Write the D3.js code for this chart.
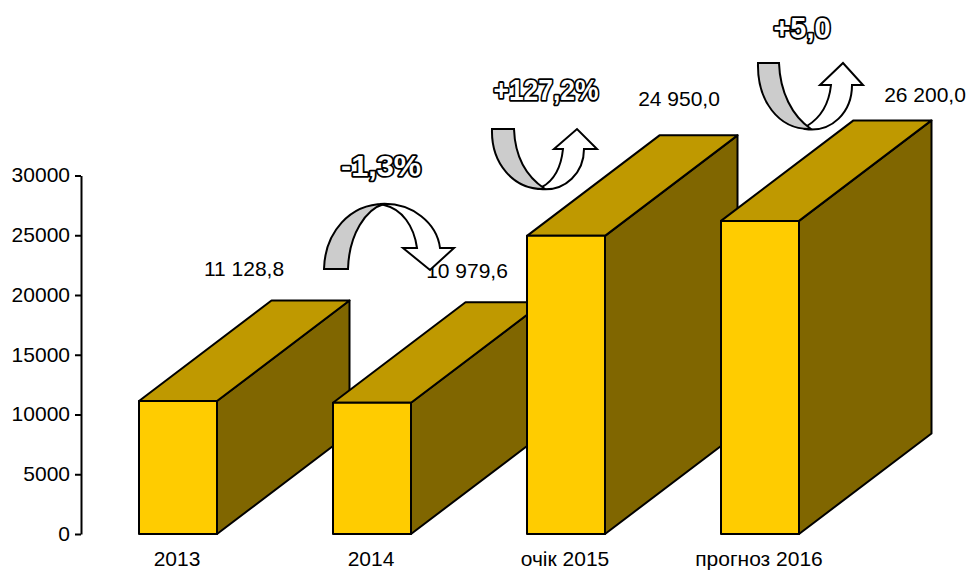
<!DOCTYPE html>
<html><head><meta charset="utf-8">
<script src="https://cdn.jsdelivr.net/npm/d3@7"></script>
<style>html,body{margin:0;background:#fff}svg{display:block}text{font-family:"Liberation Sans",Arial,sans-serif}</style>
</head><body><svg id="c" width="974" height="570"></svg>
<script>
const categories = ["2013","2014","очік 2015","прогноз 2016"];
const values = [11128.8,10979.6,24950.0,26200.0];
const valueLabels = ["11 128,8","10 979,6","24 950,0","26 200,0"];
const yTicks = [0,5000,10000,15000,20000,25000,30000];
const changeLabels = ["-1,3%","+127,2%","+5,0"];

const svg = d3.select("#c");
const y = d3.scaleLinear().domain([0,30000]).range([534,175.5]);
const x = d3.scaleBand().domain(categories).range([81,857]).paddingInner(0).paddingOuter(0);
const barW = 78, dx = 132.5, dy = 100.5;

// axis
const ax = svg.append("g").attr("transform","translate(81,0)")
  .call(d3.axisLeft(y).tickValues(yTicks).tickFormat(d3.format("d")).tickSize(6).tickSizeOuter(0).tickPadding(0));
ax.selectAll("path,line").attr("stroke","#000").attr("stroke-width",2);
ax.selectAll("text").attr("font-size",21).attr("fill","#000").attr("x",-11).attr("dy","0.3em");

// bars
const g = svg.append("g").attr("stroke","#000").attr("stroke-width",2).attr("stroke-linejoin","round");
const bx = c => x(c)+x.bandwidth()/2-barW/2;
categories.forEach((c,i)=>{
  const l=bx(c), r=l+barW, t=y(values[i]), b=y(0);
  g.append("path").attr("fill","#806600").attr("d",d3.line()([[r,b],[r+dx,b-dy],[r+dx,t-dy],[r,t]])+"Z");
  g.append("path").attr("fill","#BF9900").attr("d",d3.line()([[l,t],[l+dx,t-dy],[r+dx,t-dy],[r,t]])+"Z");
  g.append("rect").attr("fill","#FFCC00").attr("x",l).attr("y",t).attr("width",barW).attr("height",b-t);
});

// category labels
svg.append("g").selectAll("text").data(categories).join("text")
  .attr("x",d=>x(d)+x.bandwidth()/2-1).attr("y",566).attr("text-anchor","middle")
  .attr("font-size",21).attr("fill","#000").text(d=>d);

// value labels
const labelOffsets = [[66,-125],[95,-125],[113,-130],[165,-119]];
svg.append("g").selectAll("text").data(valueLabels).join("text")
  .attr("x",(d,i)=>x(categories[i])+x.bandwidth()/2+labelOffsets[i][0])
  .attr("y",(d,i)=>y(values[i])+labelOffsets[i][1])
  .attr("text-anchor","middle").attr("font-size",21).attr("fill","#000").text(d=>d);

// curved arrows (annotation shapes)
const arrowGrey = [
 "M324,269C325,232 350,204 384,204C366,209 349,234 348,269Z",
 "M492,129L514,129C515,157 527,177 545,189C513,190 491,163 492,129Z",
 "M758,63L779,63C780,92 792,116 811,129C778,130 757,100 758,63Z"];
const arrowWhite = [
 "M380,204C413,202 437,224 440,248L454,248L430,270L403,248L417,248C414,226 402,209 384,205Z",
 "M540,189C566,192 584,172 584,149L597,149L577,129L554,149L563,149C561,168 553,181 542,187Z",
 "M805,129C832,133 852,112 852,85L863,85L843,63L820,85L831,85C829,104 820,118 807,126Z"];
const arrows = svg.append("g").attr("stroke","#000").attr("stroke-width",2).attr("stroke-linejoin","miter");
arrowWhite.forEach(d=>arrows.append("path").attr("d",d).attr("fill","#fff"));
arrowGrey.forEach(d=>arrows.append("path").attr("d",d).attr("fill","#CCCCCC"));

// outlined change labels
const changePos = [[381,176],[546,100],[802,38]];
const changeWidths = [80,105,57];
svg.append("g").selectAll("text").data(changeLabels).join("text")
  .attr("x",(d,i)=>changePos[i][0]).attr("y",(d,i)=>changePos[i][1])
  .attr("text-anchor","middle").attr("font-size",30).attr("font-weight","bold")
  .attr("textLength",(d,i)=>changeWidths[i]).attr("lengthAdjust","spacingAndGlyphs")
  .attr("fill","#fff").attr("stroke","#000").attr("stroke-width",3.6)
  .attr("stroke-linejoin","round").attr("paint-order","stroke").text(d=>d);
</script></body></html>
